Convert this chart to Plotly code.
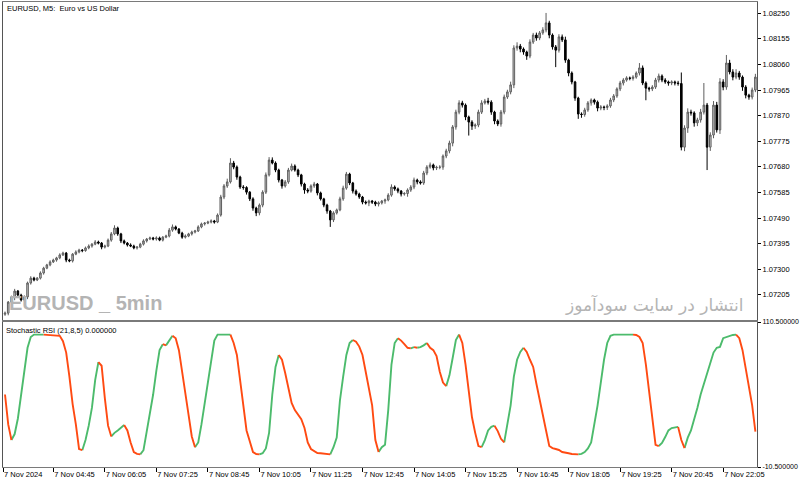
import plotly.graph_objects as go
import pandas as pd

# ---------------- data ----------------
open_ = [
    1.07133, 1.07137, 1.07178, 1.07197, 1.07219, 1.07204, 1.07186, 1.07197, 1.07249, 1.07267,
    1.07260, 1.07267, 1.07286, 1.07304, 1.07316, 1.07327, 1.07334, 1.07342, 1.07353, 1.07360,
    1.07334, 1.07331, 1.07356, 1.07364, 1.07371, 1.07369, 1.07379, 1.07386, 1.07393, 1.07401,
    1.07397, 1.07382, 1.07386, 1.07408, 1.07431, 1.07453, 1.07431, 1.07405, 1.07397, 1.07390,
    1.07386, 1.07379, 1.07382, 1.07393, 1.07405, 1.07412, 1.07416, 1.07412, 1.07416, 1.07408,
    1.07419, 1.07423, 1.07445, 1.07457, 1.07449, 1.07434, 1.07419, 1.07423, 1.07431, 1.07438,
    1.07442, 1.07457, 1.07468, 1.07471, 1.07475, 1.07479, 1.07475, 1.07501, 1.07568, 1.07609,
    1.07624, 1.07694, 1.07679, 1.07642, 1.07605, 1.07603, 1.07586, 1.07561, 1.07527, 1.07509,
    1.07538, 1.07586, 1.07650, 1.07705, 1.07694, 1.07668, 1.07631, 1.07609, 1.07624, 1.07668,
    1.07683, 1.07668, 1.07650, 1.07616, 1.07594, 1.07590, 1.07609, 1.07616, 1.07583, 1.07561,
    1.07538, 1.07516, 1.07483, 1.07509, 1.07520, 1.07561, 1.07601, 1.07653, 1.07620, 1.07590,
    1.07579, 1.07568, 1.07549, 1.07546, 1.07553, 1.07549, 1.07542, 1.07546, 1.07553, 1.07557,
    1.07575, 1.07605, 1.07598, 1.07590, 1.07579, 1.07581, 1.07594, 1.07605, 1.07631, 1.07624,
    1.07620, 1.07657, 1.07679, 1.07687, 1.07676, 1.07678, 1.07679, 1.07720, 1.07739, 1.07768,
    1.07828, 1.07883, 1.07917, 1.07909, 1.07865, 1.07846, 1.07831, 1.07835, 1.07883, 1.07917,
    1.07924, 1.07920, 1.07883, 1.07850, 1.07839, 1.07883, 1.07939, 1.07958, 1.07984, 1.08121,
    1.08128, 1.08117, 1.08106, 1.08091, 1.08143, 1.08169, 1.08158, 1.08177, 1.08188, 1.08214,
    1.08169, 1.08125, 1.08113, 1.08162, 1.08151, 1.08076, 1.08028, 1.07995, 1.07935, 1.07876,
    1.07874, 1.07891, 1.07917, 1.07928, 1.07920, 1.07898, 1.07902, 1.07900, 1.07906, 1.07928,
    1.07943, 1.07969, 1.07991, 1.08002, 1.08010, 1.08008, 1.08013, 1.08028, 1.08047, 1.07991,
    1.07972, 1.07969, 1.07976, 1.08002, 1.08017, 1.08002, 1.07995, 1.07991, 1.07995, 1.07991,
    1.07989, 1.07753, 1.07824, 1.07883, 1.07880, 1.07843, 1.07854, 1.07883, 1.07909, 1.07753,
    1.07798, 1.07909, 1.07817, 1.07995, 1.07976, 1.08065, 1.08032, 1.08013, 1.08028, 1.08013,
    1.07976, 1.07946, 1.07939, 1.07965,
]

close = [
    1.07137, 1.07178, 1.07197, 1.07219, 1.07204, 1.07186, 1.07197, 1.07249, 1.07267, 1.07260,
    1.07267, 1.07286, 1.07304, 1.07316, 1.07327, 1.07334, 1.07342, 1.07353, 1.07360, 1.07334,
    1.07331, 1.07356, 1.07364, 1.07371, 1.07369, 1.07379, 1.07386, 1.07393, 1.07401, 1.07397,
    1.07382, 1.07386, 1.07408, 1.07431, 1.07453, 1.07431, 1.07405, 1.07397, 1.07390, 1.07386,
    1.07379, 1.07382, 1.07393, 1.07405, 1.07412, 1.07416, 1.07412, 1.07416, 1.07408, 1.07419,
    1.07423, 1.07445, 1.07457, 1.07449, 1.07434, 1.07419, 1.07423, 1.07431, 1.07438, 1.07442,
    1.07457, 1.07468, 1.07471, 1.07475, 1.07479, 1.07475, 1.07501, 1.07568, 1.07609, 1.07624,
    1.07694, 1.07679, 1.07642, 1.07605, 1.07603, 1.07586, 1.07561, 1.07527, 1.07509, 1.07538,
    1.07586, 1.07650, 1.07705, 1.07694, 1.07668, 1.07631, 1.07609, 1.07624, 1.07668, 1.07683,
    1.07668, 1.07650, 1.07616, 1.07594, 1.07590, 1.07609, 1.07616, 1.07583, 1.07561, 1.07538,
    1.07516, 1.07483, 1.07509, 1.07520, 1.07561, 1.07601, 1.07653, 1.07620, 1.07590, 1.07579,
    1.07568, 1.07549, 1.07546, 1.07553, 1.07549, 1.07542, 1.07546, 1.07553, 1.07557, 1.07575,
    1.07605, 1.07598, 1.07590, 1.07579, 1.07581, 1.07594, 1.07605, 1.07631, 1.07624, 1.07620,
    1.07657, 1.07679, 1.07687, 1.07676, 1.07678, 1.07679, 1.07720, 1.07739, 1.07768, 1.07828,
    1.07883, 1.07917, 1.07909, 1.07865, 1.07846, 1.07831, 1.07835, 1.07883, 1.07917, 1.07924,
    1.07920, 1.07883, 1.07850, 1.07839, 1.07883, 1.07939, 1.07958, 1.07984, 1.08121, 1.08128,
    1.08117, 1.08106, 1.08091, 1.08143, 1.08169, 1.08158, 1.08177, 1.08188, 1.08214, 1.08169,
    1.08125, 1.08113, 1.08162, 1.08151, 1.08076, 1.08028, 1.07995, 1.07935, 1.07876, 1.07874,
    1.07891, 1.07917, 1.07928, 1.07920, 1.07898, 1.07902, 1.07900, 1.07906, 1.07928, 1.07943,
    1.07969, 1.07991, 1.08002, 1.08010, 1.08008, 1.08013, 1.08028, 1.08047, 1.07991, 1.07972,
    1.07969, 1.07976, 1.08002, 1.08017, 1.08002, 1.07995, 1.07991, 1.07995, 1.07991, 1.07989,
    1.07753, 1.07824, 1.07883, 1.07880, 1.07843, 1.07854, 1.07883, 1.07909, 1.07753, 1.07798,
    1.07909, 1.07817, 1.07995, 1.07976, 1.08065, 1.08032, 1.08013, 1.08028, 1.08013, 1.07976,
    1.07946, 1.07939, 1.07965, 1.08013,
]

# wick lengths above / below the body, in points (0.00001)
upper_wick = [
    6, 4, 5, 8, 4, 5, 6, 5, 7, 5,
    4, 6, 5, 4, 6, 5, 4, 6, 5, 4,
    5, 4, 6, 5, 4, 5, 6, 4, 7, 5,
    4, 5, 6, 7, 10, 5, 4, 5, 4, 6,
    5, 4, 5, 6, 4, 5, 4, 6, 5, 4,
    5, 8, 9, 5, 4, 5, 6, 4, 5, 4,
    6, 5, 4, 5, 6, 4, 6, 8, 7, 12,
    18, 8, 6, 5, 7, 5, 4, 6, 5, 6,
    7, 9, 11, 10, 6, 5, 4, 7, 8, 9,
    6, 5, 4, 5, 7, 6, 8, 4, 5, 4,
    5, 4, 6, 5, 8, 9, 8, 5, 4, 6,
    5, 4, 6, 5, 4, 5, 6, 4, 5, 7,
    10, 6, 5, 4, 5, 6, 7, 9, 5, 6,
    8, 7, 9, 5, 6, 7, 6, 8, 9, 7,
    9, 10, 8, 6, 5, 7, 6, 9, 10, 8,
    12, 7, 5, 6, 8, 9, 8, 12, 10, 14,
    8, 6, 5, 10, 8, 9, 7, 10, 37, 8,
    6, 7, 10, 9, 12, 5, 6, 4, 5, 6,
    8, 7, 6, 5, 6, 7, 5, 6, 8, 7,
    6, 8, 7, 6, 5, 7, 6, 18, 9, 6,
    5, 7, 8, 9, 6, 7, 5, 6, 5, 8,
    41, 10, 14, 9, 6, 8, 12, 82, 8, 10,
    15, 12, 14, 10, 30, 12, 10, 14, 8, 6,
    7, 5, 9, 12,
]
lower_wick = [
    6, 8, 5, 12, 4, 6, 5, 8, 6, 5,
    4, 5, 6, 4, 5, 4, 6, 5, 4, 8,
    5, 6, 4, 5, 6, 4, 5, 6, 4, 5,
    8, 5, 4, 6, 5, 7, 8, 5, 6, 4,
    5, 6, 4, 5, 6, 4, 5, 6, 4, 5,
    4, 5, 6, 5, 4, 6, 5, 4, 6, 5,
    4, 5, 6, 4, 5, 6, 4, 6, 8, 7,
    6, 8, 10, 7, 8, 9, 8, 10, 12, 9,
    8, 7, 6, 5, 8, 9, 10, 6, 7, 5,
    6, 8, 9, 14, 8, 6, 7, 9, 6, 8,
    10, 26, 8, 6, 5, 7, 6, 8, 9, 6,
    7, 8, 6, 12, 7, 8, 9, 6, 10, 5,
    6, 7, 8, 9, 6, 12, 7, 8, 9, 6,
    7, 8, 6, 9, 8, 7, 10, 8, 9, 12,
    10, 8, 9, 12, 50, 14, 10, 8, 7, 6,
    9, 10, 12, 8, 10, 8, 7, 9, 12, 10,
    12, 10, 14, 8, 7, 10, 8, 7, 9, 12,
    10, 63, 9, 8, 10, 12, 9, 10, 18, 12,
    8, 7, 10, 9, 12, 8, 10, 9, 7, 8,
    7, 8, 9, 6, 7, 8, 6, 9, 8, 45,
    10, 8, 7, 9, 8, 7, 10, 8, 9, 8,
    12, 15, 18, 10, 14, 12, 10, 9, 85, 14,
    12, 10, 15, 12, 10, 9, 12, 8, 10, 14,
    12, 10, 9, 8,
]

stoch_rsi = [
    50, 25, 12, 17, 30, 50, 69, 89, 98, 100,
    100, 100, 100, 99.8, 99.6, 99.4, 99.2, 99, 94.5, 85,
    65, 42, 25, 4.5, 3.5, 12, 24, 39, 62, 77,
    74, 47, 24, 15, 18, 20, 22, 24.5, 20, 10,
    2, 0.5, 0, 3.5, 19, 33, 50, 70, 87, 92,
    91, 95, 99, 97, 87, 70, 54, 33, 15, 6,
    10, 25, 42, 60, 79, 95, 100, 100, 100, 100,
    100, 93, 83, 62, 41, 20, 11, 2, 0.3, 0,
    1, 5, 18, 50, 73, 83, 79, 68, 54, 43,
    37, 33, 29.5, 22, 10, 4.5, 3, 1.2, 1, 0.8,
    0.3, 0, 6, 14, 45, 65, 83, 93, 95.5, 94,
    90, 83, 69, 54, 41, 12, 2, 6, 8, 37,
    75, 93, 97, 95, 92, 89, 88.5, 89.5, 89, 89.5,
    91, 93, 89, 87, 82, 69, 60, 57, 66, 80.5,
    95.5, 100, 93, 75, 52, 31, 18, 7, 6, 12,
    20, 23, 24, 19.5, 13, 10, 24.5, 41, 65, 79,
    85.5, 89, 85.5, 79, 73, 59, 45, 33, 20, 7,
    5.3, 4.5, 3.7, 2, 1.2, 1, 0.4, 0.1, 0, 0.5,
    2, 5, 10, 24.5, 41, 60, 79, 93, 99, 100,
    100, 100, 100, 100, 100, 100, 99.7, 98, 93, 75,
    54, 33, 8, 7, 9.5, 14.5, 20, 22, 22.5, 23,
    12, 5.3, 14, 20, 29, 39, 50, 59, 68, 77,
    85, 89, 89.7, 97, 98, 99, 99.7, 100, 97, 87,
    72, 58, 41, 19,
]

first_bar_time = "2024-11-07 03:30"
tick_times = ["2024-11-07 03:27", "2024-11-07 04:45", "2024-11-07 06:05", "2024-11-07 07:25",
              "2024-11-07 08:45", "2024-11-07 10:05", "2024-11-07 11:25", "2024-11-07 12:45",
              "2024-11-07 14:05", "2024-11-07 15:25", "2024-11-07 16:45", "2024-11-07 18:05",
              "2024-11-07 19:25", "2024-11-07 20:45", "2024-11-07 22:05"]
tick_labels = ["7 Nov 2024", "7 Nov 04:45", "7 Nov 06:05", "7 Nov 07:25", "7 Nov 08:45",
               "7 Nov 10:05", "7 Nov 11:25", "7 Nov 12:45", "7 Nov 14:05", "7 Nov 15:25",
               "7 Nov 16:45", "7 Nov 18:05", "7 Nov 19:25", "7 Nov 20:45", "7 Nov 22:05"]
stoch_ticks = [-10.5, 110.5]
stoch_tick_labels = ["-10.500000", "110.500000"]

# ---------------- derived ----------------
times = pd.date_range(first_bar_time, periods=len(close), freq="5min")
high = [max(o, c) + u / 100000 for o, c, u in zip(open_, close, upper_wick)]
low = [min(o, c) - d / 100000 for o, c, d in zip(open_, close, lower_wick)]

GREEN = "#4CBB6C"
ORANGE = "#FF4A12"

# split stochastic line into rising (green) / falling (orange) runs
seg_colors = []
prev = GREEN
for i in range(len(stoch_rsi) - 1):
    if stoch_rsi[i + 1] > stoch_rsi[i]:
        prev = GREEN
    elif stoch_rsi[i + 1] < stoch_rsi[i]:
        prev = ORANGE
    seg_colors.append(prev)

lines = {GREEN: ([], []), ORANGE: ([], [])}
i = 0
while i < len(seg_colors):
    col = seg_colors[i]
    j = i
    while j + 1 < len(seg_colors) and seg_colors[j + 1] == col:
        j += 1
    xs, ys = lines[col]
    xs.extend(list(times[i:j + 2]) + [None])
    ys.extend(stoch_rsi[i:j + 2] + [None])
    i = j + 1

fig = go.Figure()
fig.add_trace(go.Candlestick(
    x=times, open=open_, high=high, low=low, close=close,
    xaxis="x2", yaxis="y2",
    increasing=dict(line=dict(color="#5e5e5e", width=1), fillcolor="#c8c8c8"),
    decreasing=dict(line=dict(color="#000000", width=1), fillcolor="#000000"),
    whiskerwidth=0, showlegend=False, hoverinfo="skip",
))
for col, (xs, ys) in lines.items():
    fig.add_trace(go.Scatter(x=xs, y=ys, mode="lines", line=dict(color=col, width=1.9),
                             connectgaps=False, showlegend=False, hoverinfo="skip",
                             xaxis="x", yaxis="y"))

tfont = dict(family="Liberation Sans, Arial, sans-serif", size=7.5, color="#000000")
sfont = dict(family="Liberation Sans, Arial, sans-serif", size=7, color="#000000")
x_start = pd.Timestamp(first_bar_time) - pd.Timedelta(seconds=186)
x_end = pd.Timestamp(first_bar_time) + pd.Timedelta(minutes=5 * 233.5)

fig.update_layout(
    width=800, height=485,
    margin=dict(l=3, r=43, t=2, b=18, autoexpand=False),
    paper_bgcolor="white", plot_bgcolor="white",
    hovermode=False,
    xaxis=dict(domain=[0, 1], anchor="y", type="date", range=[x_start, x_end],
               tickvals=tick_times, ticktext=tick_labels, ticks="outside", ticklen=4,
               tickcolor="#000000", ticklabelposition="outside right", tickfont=tfont,
               showline=True, linecolor="#7a7a7a", linewidth=1, mirror=True,
               showgrid=False, zeroline=False, rangeslider=dict(visible=False),
               automargin=False),
    xaxis2=dict(domain=[0, 1], anchor="y2", matches="x", type="date",
                showticklabels=False, ticks="", showline=True, linecolor="#7a7a7a",
                linewidth=1, mirror=True, showgrid=False, zeroline=False,
                rangeslider=dict(visible=False), automargin=False),
    yaxis=dict(domain=[0, 0.3118], anchor="x", side="right", range=[-10.5, 110.5],
               tickvals=stoch_ticks, ticktext=stoch_tick_labels, ticks="outside", ticklen=3,
               tickcolor="#000000", tickfont=sfont, showline=True, linecolor="#555555",
               linewidth=1, mirror=True, showgrid=False, zeroline=False, automargin=False),
    yaxis2=dict(domain=[0.3161, 1], anchor="x2", side="right", range=[1.071115, 1.082916],
                tick0=1.07205, dtick=0.00095, tickformat=".5f", ticks="outside", ticklen=3,
                tickcolor="#000000", tickfont=tfont, showline=True, linecolor="#555555",
                linewidth=1, mirror=True, showgrid=False, zeroline=False, automargin=False),
    annotations=[
        dict(text="EURUSD, M5:  Euro vs US Dollar", xref="paper", yref="paper",
             x=0.0027, y=0.987, xanchor="left", yanchor="middle", showarrow=False, font=tfont),
        dict(text="Stochastic RSI (21,8,5) 0.000000", xref="paper", yref="paper",
             x=0.0013, y=0.2925, xanchor="left", yanchor="middle", showarrow=False, font=tfont),
        dict(text="<b>EURUSD _ 5min</b>", xref="paper", yref="paper",
             x=0.0053, y=0.3527, xanchor="left", yanchor="middle", showarrow=False,
             font=dict(family="Liberation Sans, Arial, sans-serif", size=20, color="#b4b4b4")),
        dict(text="انتشار در سایت سودآموز", xref="paper", yref="paper",
             x=0.984, y=0.3505, xanchor="right", yanchor="middle", showarrow=False,
             font=dict(family="DejaVu Sans, sans-serif", size=17, color="#b4b4b4")),
    ],
)

fig.write_html("out.html")
